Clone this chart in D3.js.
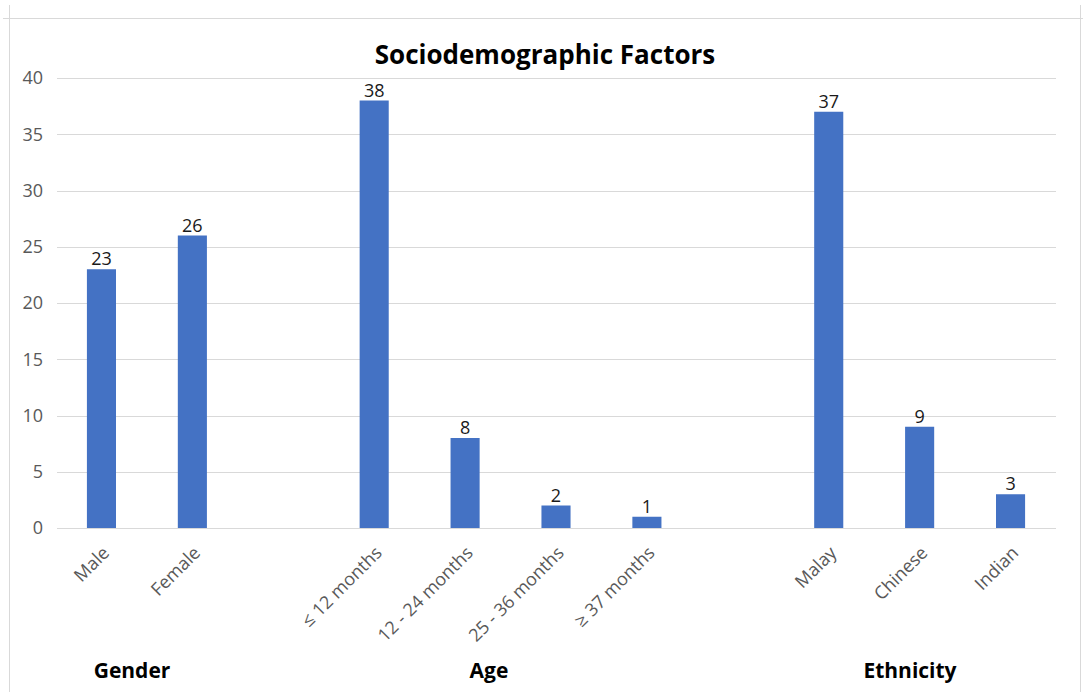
<!DOCTYPE html>
<html><head><meta charset="utf-8">
<script src="https://cdn.jsdelivr.net/npm/d3@7"></script>
<style>body{margin:0;background:#fff;}svg{display:block;font-family:"Open Sans",sans-serif;}</style>
</head><body><svg id="c" width="1083" height="692"></svg>
<script>
const categories = ["Male","Female","gap1","≤ 12 months","12 - 24 months","25 - 36 months","≥ 37 months","gap2","Malay","Chinese","Indian"];
const values = [23,26,null,38,8,2,1,null,37,9,3];
const groups = ["Gender","Age","Ethnicity"];
const yTicks = [0,5,10,15,20,25,30,35,40];
const title = "Sociodemographic Factors";

const svg = d3.select("#c");
// frame
svg.append("line").attr("x1",3).attr("x2",1083).attr("y1",18.5).attr("y2",18.5).attr("stroke","#d9d9d9");
svg.append("line").attr("x1",9.5).attr("x2",9.5).attr("y1",5).attr("y2",692).attr("stroke","#d9d9d9");
svg.append("line").attr("x1",1080.5).attr("x2",1080.5).attr("y1",5).attr("y2",692).attr("stroke","#d9d9d9");

const x = d3.scaleBand().domain(categories).range([56,1056]).paddingInner(0.68).paddingOuter(0.34);
const y = d3.scaleLinear().domain([0,40]).range([528,78]);

const g = svg.append("g");
g.selectAll("line.grid").data(yTicks).join("line").attr("class","grid")
  .attr("x1",57).attr("x2",1056).attr("y1",d=>Math.round(y(d))+0.5).attr("y2",d=>Math.round(y(d))+0.5)
  .attr("stroke","#d9d9d9").attr("stroke-width",1);
g.selectAll("text.yt").data(yTicks).join("text").attr("class","yt")
  .attr("x",43).attr("y",d=>y(d)).attr("dy","0.36em").attr("text-anchor","end")
  .attr("fill","#595959").attr("font-size",18).text(d=>d);

const data = categories.map((c,i)=>({c,v:values[i]})).filter(d=>d.v!==null);
g.selectAll("rect").data(data).join("rect")
  .attr("x",d=>x(d.c)).attr("width",x.bandwidth())
  .attr("y",d=>y(d.v)).attr("height",d=>y(0)-y(d.v)).attr("fill","#4472c4");
g.selectAll("text.val").data(data).join("text").attr("class","val")
  .attr("x",d=>x(d.c)+x.bandwidth()/2).attr("y",d=>y(d.v)-4).attr("text-anchor","middle")
  .attr("fill","#1a1a1a").attr("font-size",18).text(d=>d.v);
g.selectAll("text.cat").data(data).join("text").attr("class","cat")
  .attr("transform",d=>`translate(${x(d.c)+x.bandwidth()/2+9},${554}) rotate(-45)`)
  .attr("text-anchor","end").attr("fill","#595959").attr("font-size",18).text(d=>d.c);

svg.append("text").attr("x",545).attr("y",64).attr("text-anchor","middle")
  .attr("font-size",26).attr("font-weight","bold").attr("fill","#000").text(title);

const gpos = [132,489,910];
svg.selectAll("text.grp").data(groups).join("text").attr("class","grp")
  .attr("x",(d,i)=>gpos[i]).attr("y",678).attr("text-anchor","middle")
  .attr("font-size",21).attr("font-weight","bold").attr("fill","#000").text(d=>d);
</script></body></html>
